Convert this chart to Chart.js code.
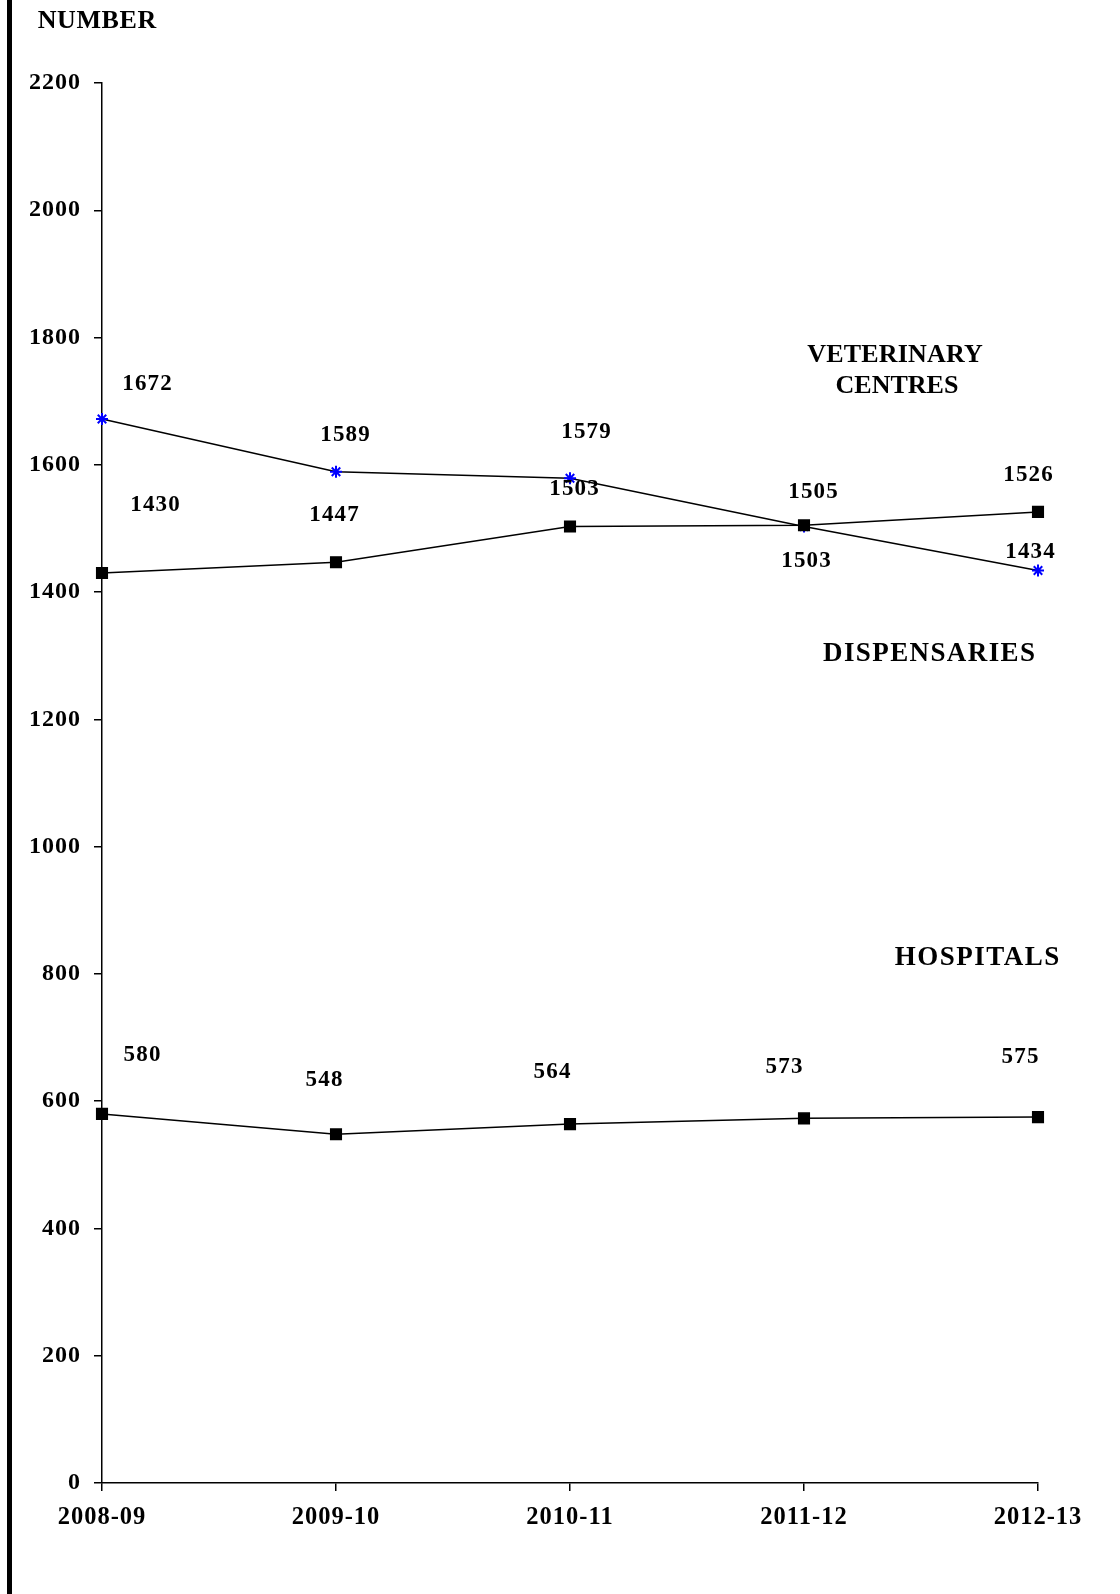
<!DOCTYPE html>
<html>
<head>
<meta charset="utf-8">
<script src="https://cdn.jsdelivr.net/npm/chart.js@4.4.0/dist/chart.umd.min.js"></script>
<style>
  html, body { margin: 0; padding: 0; background: #fff; }
  canvas { display: block; }
</style>
</head>
<body>
<canvas id="chart" width="1120" height="1594"></canvas>
<script>
// Données
const years = ["2008-09", "2009-10", "2010-11", "2011-12", "2012-13"];
const veterinaryCentres = [1672, 1589, 1579, 1503, 1434];
const dispensaries = [1430, 1447, 1503, 1505, 1526];
const hospitals = [580, 548, 564, 573, 575];
const yMin = 0;
const yMax = 2200;
const yStep = 200;

const serif = "'Liberation Serif', 'Times New Roman', serif";

// décalages des étiquettes par rapport aux points (style)
const labelOffsets = {
  dispensaries: [[53, -68], [-2, -47], [4, -37], [9, -33], [-10, -37]],
  veterinary: [[45, -35], [9, -37], [16, -46], [2, 35], [-8, -18]],
  hospitals: [[40, -59], [-12, -54], [-18, -52], [-20, -51], [-18, -60]],
};

function drawSpaced(ctx, text, x, y, spacing) {
  ctx.letterSpacing = spacing + "px";
  ctx.fillText(text, x + spacing / 2, y);
}

const chartTexts = {
  id: "chartTexts",
  beforeDraw(chart) {
    const ctx = chart.ctx;
    ctx.letterSpacing = "1px";
    ctx.save();
    ctx.fillStyle = "#000";
    ctx.fillRect(7, 0, 5, chart.height);
    ctx.restore();
  },
  afterDatasetsDraw(chart) {
    const ctx = chart.ctx;
    ctx.save();
    ctx.fillStyle = "#000";
    ctx.textAlign = "center";
    ctx.textBaseline = "middle";
    ctx.font = "bold 23px " + serif;

    chart.data.datasets.forEach((ds, i) => {
      const meta = chart.getDatasetMeta(i);
      const offs = labelOffsets[ds.key];
      meta.data.forEach((pt, j) => {
        drawSpaced(ctx, String(ds.data[j]), pt.x + offs[j][0], pt.y + offs[j][1], 1.2);
      });
    });

    // noms des séries et titre de l'axe
    ctx.textBaseline = "alphabetic";
    ctx.font = "bold 26px " + serif;
    drawSpaced(ctx, "NUMBER", 97, 28, 0.6);
    drawSpaced(ctx, "VETERINARY", 895, 362, 0.2);
    drawSpaced(ctx, "CENTRES", 897, 393, 0);
    ctx.font = "bold 27px " + serif;
    drawSpaced(ctx, "DISPENSARIES", 929, 661, 1.4);
    drawSpaced(ctx, "HOSPITALS", 977, 965, 1.5);
    ctx.restore();
  },
};

const ctx = document.getElementById("chart");

new Chart(ctx, {
  type: "line",
  data: {
    labels: years,
    datasets: [
      {
        key: "dispensaries",
        label: "DISPENSARIES",
        data: dispensaries,
        borderColor: "#000",
        borderWidth: 1.5,
        pointStyle: "rect",
        pointRadius: 7.5,
        pointBackgroundColor: "#000",
        pointBorderColor: "#000",
        tension: 0,
      },
      {
        key: "veterinary",
        label: "VETERINARY CENTRES",
        data: veterinaryCentres,
        borderColor: "#000",
        borderWidth: 1.5,
        pointStyle: "star",
        pointRadius: 6,
        pointBorderWidth: 2,
        pointBackgroundColor: "#0000ff",
        pointBorderColor: "#0000ff",
        tension: 0,
      },
      {
        key: "hospitals",
        label: "HOSPITALS",
        data: hospitals,
        borderColor: "#000",
        borderWidth: 1.5,
        pointStyle: "rect",
        pointRadius: 7.5,
        pointBackgroundColor: "#000",
        pointBorderColor: "#000",
        tension: 0,
      },
    ],
  },
  options: {
    responsive: false,
    animation: false,
    devicePixelRatio: 1,
    events: [],
    layout: { padding: { left: 0, right: 82, top: 83, bottom: 0 } },
    plugins: {
      legend: { display: false },
      tooltip: { enabled: false },
    },
    scales: {
      x: {
        type: "category",
        offset: false,
        grid: {
          display: true,
          drawOnChartArea: false,
          drawTicks: true,
          tickLength: 8,
          color: "#000",
          lineWidth: 1.5,
        },
        border: { display: true, color: "#000", width: 1.5 },
        ticks: {
          color: "#000",
          font: { family: serif, size: 24.5, weight: "bold" },
          padding: 12,
          autoSkip: false,
          maxRotation: 0,
        },
        afterFit: (scale) => { scale.height = 111; },
      },
      y: {
        min: yMin,
        max: yMax,
        grid: {
          display: true,
          drawOnChartArea: false,
          drawTicks: true,
          tickLength: 8,
          color: "#000",
          lineWidth: 1.5,
        },
        border: { display: true, color: "#000", width: 1.5 },
        ticks: {
          stepSize: yStep,
          color: "#000",
          font: { family: serif, size: 24, weight: "bold" },
          padding: 13,
          callback: (v) => String(v),
        },
        afterFit: (scale) => { scale.width = 102; },
      },
    },
  },
  plugins: [chartTexts],
});
</script>
</body>
</html>
